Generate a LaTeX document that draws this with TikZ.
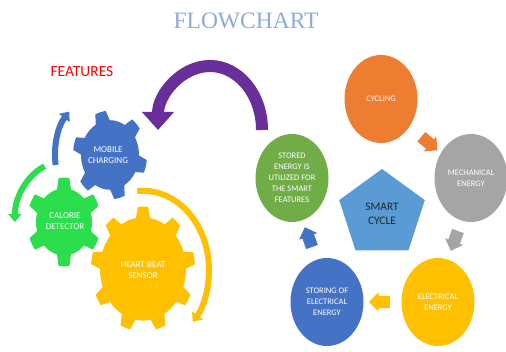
\documentclass[tikz,border=0pt]{standalone}
\usepackage{fontspec}
\setmainfont{Liberation Serif}
\newfontfamily\labelfont{Carlito}
\usetikzlibrary{arrows.meta,calc,shapes.geometric,shapes.arrows}
\definecolor{titleblue}{HTML}{8EAADB}
\definecolor{cycorange}{HTML}{ED7D31}
\definecolor{cycgrey}{HTML}{A5A5A5}
\definecolor{cycgold}{HTML}{FFC000}
\definecolor{cycblue}{HTML}{4472C4}
\definecolor{cycgreen}{HTML}{70AD47}
\definecolor{pentblue}{HTML}{5B9BD5}
\definecolor{gearlime}{HTML}{2BDE4B}
\definecolor{loopviolet}{HTML}{6A2E9A}
\tikzset{
  fc/stage/.style={ellipse, fill=#1, minimum width=73pt, minimum height=88pt, inner sep=0pt,
    align=center, text=white, font=\labelfont\fontsize{8.5}{11}\selectfont},
  fc/hub/.style={regular polygon, regular polygon sides=5, fill=pentblue, minimum size=90pt,
    inner sep=0pt, align=center, text=black!85, font=\labelfont\fontsize{11.5}{14}\selectfont},
  fc/cogtext/.style={align=center, text=white, font=\labelfont\fontsize{9}{11.5}\selectfont},
  fc/block/.style={single arrow, fill=#1, minimum height=21pt, minimum width=19pt,
    single arrow head extend=3.5pt, inner xsep=0pt, inner ysep=6pt},
  fc/turn/.style={line width=6pt, draw=#1, -{Triangle[width=13pt,length=8pt]}},
  fc/loop/.style={line width=12pt, draw=loopviolet, -{Triangle[width=31pt,length=18pt]}}
}
% centre, teeth, inner radius, outer radius, turn, colour
\newcommand\drawcog[6]{%
  \begin{scope}[shift={#1}, yscale=1.2]
    \pgfmathsetmacro\cogstep{360/#2}
    \pgfmathsetmacro\cogbase{0.24*\cogstep}
    \pgfmathsetmacro\cogtip{0.14*\cogstep}
    \fill[#6] ({#5-\cogstep/2}:#3)
      \foreach \k in {1,...,#2}{
        arc[start angle=#5+(\k-1)*\cogstep-\cogstep/2, end angle=#5+(\k-1)*\cogstep-\cogbase, radius=#3]
        -- ({#5+(\k-1)*\cogstep-\cogtip}:#4)
        arc[start angle=#5+(\k-1)*\cogstep-\cogtip, end angle=#5+(\k-1)*\cogstep+\cogtip, radius=#4]
        -- ({#5+(\k-1)*\cogstep+\cogbase}:#3)
        arc[start angle=#5+(\k-1)*\cogstep+\cogbase, end angle=#5+\k*\cogstep-\cogstep/2, radius=#3]
      } -- cycle;
  \end{scope}}

\begin{document}
\begin{tikzpicture}[x=1pt, y=1pt]
  \useasboundingbox (0,0) rectangle (506,351);

  \node[text=titleblue, font=\fontsize{23.5}{28}\selectfont] (title) at (246,330) {FLOWCHART};
  \node[text=red, font=\labelfont\fontsize{15.5}{18}\selectfont] (features) at (82,279) {FEATURES};

  % Feature gears
  \drawcog{(110,196)}{6}{29}{37}{105}{cycblue}
  \drawcog{(64,129)}{6}{28}{37}{90}{gearlime}
  \drawcog{(143,82)}{9}{43}{52}{90}{cycgold}
  \node[fc/cogtext] (mobile) at (108,196) {MOBILE\\CHARGING};
  \node[fc/cogtext] (calorie) at (65,130) {CALORIE\\DETECTOR};
  \node[fc/cogtext] (heart) at (143,81) {HEART BEAT\\SENSOR};

  % turning arrows round the gears
  \begin{scope}[shift={(mobile.center)}, yscale=1.2]
    \draw[fc/turn=cycblue] (189:53) arc[start angle=189, end angle=137, radius=53];
  \end{scope}
  \begin{scope}[shift={(calorie.center)}, yscale=1.2]
    \draw[fc/turn=gearlime] (114:50) arc[start angle=114, end angle=181, radius=50];
  \end{scope}
  \begin{scope}[shift={(heart.center)}, yscale=1.2]
    \draw[fc/turn=cycgold] (95:66) arc[start angle=95, end angle=-41, radius=66];
  \end{scope}

  % Smart cycle
  \node[fc/hub] (hub) at (382,137) {SMART\\CYCLE};
  \node[fc/stage=cycorange] (cycling) at (381,252) {CYCLING};
  \node[fc/stage=cycgrey] (mech) at (471,173) {MECHANICAL\\ENERGY};
  \node[fc/stage=cycgold] (elec) at (438,49) {ELECTRICAL\\ENERGY};
  \node[fc/stage=cycblue] (store) at (327,49) {STORING OF\\ELECTRICAL\\ENERGY};
  \node[fc/stage=cycgreen] (used) at (292,173) {STORED\\ENERGY IS\\UTILIZED FOR\\THE SMART\\FEATURES};

  \node[fc/block=cycorange, rotate=-40] (a1) at ($(cycling)!0.5!(mech)+(1,-3)$) {};
  \node[fc/block=cycgrey, rotate=-110] (a2) at ($(mech)!0.5!(elec)+(1,2)$) {};
  \node[fc/block=cycgold, rotate=180] (a3) at ($(elec)!0.5!(store)$) {};
  \node[fc/block=cycblue, rotate=110] (a4) at ($(store)!0.5!(used)$) {};

  % stored energy goes back to the features
  \draw[fc/loop] ([xshift=-30pt,yshift=48pt]used.center) arc[start angle=0, end angle=180, x radius=52, y radius=64];
\end{tikzpicture}
\end{document}
